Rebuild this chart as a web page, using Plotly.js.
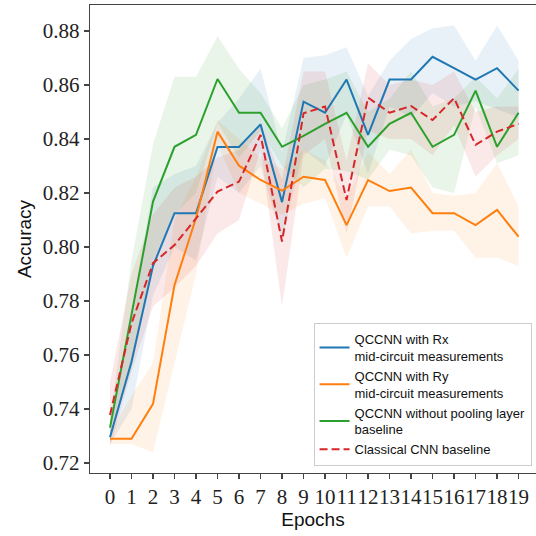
<!DOCTYPE html>
<html>
<head>
<meta charset="utf-8">
<script src="https://cdn.plot.ly/plotly-3.0.1.min.js"></script>
<style>html,body{margin:0;padding:0;background:#fff;}#chart{width:536px;height:536px;}</style>
</head>
<body>
<div id="chart"></div>
<script>
const epochs = [0,1,2,3,4,5,6,7,8,9,10,11,12,13,14,15,16,17,18,19];
const tickLabels = ["0","1","2","3","4","5","6","7","8","9","10","11","12","13","14","15","16","17","18","19"];

const rxMean  = [0.7295,0.7575,0.793,0.8125,0.8125,0.837,0.837,0.8454,0.8166,0.8538,0.8497,0.862,0.8415,0.862,0.862,0.8704,0.8662,0.862,0.8662,0.8579];
const rxUpper = [0.732,0.775,0.822,0.827,0.830,0.846,0.855,0.866,0.835,0.870,0.871,0.874,0.856,0.869,0.877,0.881,0.882,0.869,0.882,0.869];
const rxLower = [0.727,0.740,0.782,0.800,0.795,0.826,0.820,0.830,0.803,0.836,0.830,0.849,0.827,0.852,0.848,0.857,0.852,0.854,0.851,0.848];

const ryMean  = [0.729,0.729,0.7419,0.7859,0.8107,0.8427,0.8301,0.8248,0.8209,0.826,0.8248,0.8081,0.8248,0.8207,0.822,0.8125,0.8125,0.8081,0.8137,0.8038];
const ryUpper = [0.731,0.745,0.757,0.810,0.826,0.847,0.840,0.833,0.829,0.836,0.832,0.818,0.835,0.827,0.836,0.820,0.819,0.820,0.831,0.815];
const ryLower = [0.727,0.727,0.724,0.757,0.790,0.838,0.820,0.816,0.812,0.816,0.818,0.796,0.815,0.815,0.805,0.806,0.806,0.796,0.796,0.793];

const noPoolMean  = [0.7331,0.775,0.8168,0.8371,0.8415,0.8622,0.8497,0.8497,0.8371,0.8411,0.8456,0.8497,0.8371,0.8456,0.8497,0.8371,0.8415,0.8579,0.8371,0.8497];
const noPoolUpper = [0.736,0.795,0.838,0.863,0.863,0.878,0.866,0.857,0.844,0.860,0.862,0.865,0.850,0.855,0.865,0.852,0.855,0.863,0.855,0.866];
const noPoolLower = [0.730,0.755,0.795,0.812,0.820,0.846,0.833,0.843,0.830,0.822,0.829,0.828,0.825,0.836,0.834,0.822,0.820,0.852,0.831,0.834];

const cnnMean  = [0.7378,0.7717,0.794,0.8007,0.8106,0.8205,0.8242,0.8415,0.802,0.8495,0.852,0.8174,0.8553,0.8497,0.8522,0.847,0.8551,0.8378,0.8427,0.8456];
const cnnUpper = [0.750,0.790,0.812,0.822,0.826,0.833,0.836,0.846,0.825,0.865,0.865,0.832,0.868,0.860,0.862,0.860,0.865,0.850,0.852,0.852];
const cnnLower = [0.726,0.754,0.778,0.785,0.793,0.805,0.810,0.836,0.778,0.834,0.840,0.805,0.843,0.840,0.840,0.834,0.845,0.826,0.834,0.840];

const seriesNames = [
  "QCCNN with Rx<br>mid-circuit measurements",
  "QCCNN with Ry<br>mid-circuit measurements",
  "QCCNN without pooling layer<br>baseline",
  "Classical CNN baseline"
];

const colors = ["#1f77b4","#ff7f0e","#2ca02c","#d62728"];
const fills = ["rgba(31,119,180,0.1)","rgba(255,127,14,0.1)","rgba(44,160,44,0.1)","rgba(214,39,40,0.1)"];
const means = [rxMean, ryMean, noPoolMean, cnnMean];
const uppers = [rxUpper, ryUpper, noPoolUpper, cnnUpper];
const lowers = [rxLower, ryLower, noPoolLower, cnnLower];

const traces = [];
for (let k = 0; k < 4; k++) {
  traces.push({x: epochs, y: lowers[k], type: 'scatter', mode: 'lines', line: {width: 0, color: fills[k]}, showlegend: false, hoverinfo: 'skip'});
  traces.push({x: epochs, y: uppers[k], type: 'scatter', mode: 'lines', line: {width: 0, color: fills[k]}, fill: 'tonexty', fillcolor: fills[k], showlegend: false, hoverinfo: 'skip'});
}
for (let k = 0; k < 4; k++) {
  traces.push({x: epochs, y: means[k], type: 'scatter', mode: 'lines', name: seriesNames[k],
    line: {color: colors[k], width: 2, dash: k === 3 ? '8px,4px' : 'solid'}});
}

const serif = "'Liberation Serif', 'Times New Roman', Times, serif";
const sans = "'Liberation Sans', Arial, Helvetica, sans-serif";

const layout = {
  width: 536, height: 536,
  margin: {l: 90, r: 0, t: 5, b: 63},
  paper_bgcolor: '#fff', plot_bgcolor: '#fff',
  showlegend: true,
  xaxis: {
    range: [-0.93, 19.81], tickmode: 'array', tickvals: epochs, ticktext: tickLabels, tickangle: 0,
    showgrid: false, zeroline: false, showline: true, mirror: true, linecolor: '#444', linewidth: 1.2,
    ticks: 'outside', ticklen: 5, tickwidth: 1.2, tickcolor: '#444',
    tickfont: {family: serif, size: 21, color: '#222'},
    title: {text: 'Epochs', font: {family: sans, size: 19, color: '#111'}, standoff: 4}
  },
  yaxis: {
    range: [0.7163, 0.8896], tickmode: 'array', tickvals: [0.72,0.74,0.76,0.78,0.80,0.82,0.84,0.86,0.88],
    ticktext: ["0.72","0.74","0.76","0.78","0.80","0.82","0.84","0.86","0.88"],
    showgrid: false, zeroline: false, showline: true, mirror: false, linecolor: '#444', linewidth: 1.2,
    ticks: 'outside', ticklen: 5, tickwidth: 1.2, tickcolor: '#444',
    tickfont: {family: serif, size: 21, color: '#222'},
    title: {text: 'Accuracy', font: {family: sans, size: 19, color: '#111'}, standoff: 6}
  },
  legend: {
    x: 0.990, y: 0.015, xanchor: 'right', yanchor: 'bottom', traceorder: 'normal',
    bgcolor: 'rgba(255,255,255,0.8)', bordercolor: '#cccccc', borderwidth: 1,
    font: {family: sans, size: 13, color: '#111'}
  }
};

Plotly.newPlot('chart', traces, layout, {staticPlot: true, displayModeBar: false});
</script>
</body>
</html>
